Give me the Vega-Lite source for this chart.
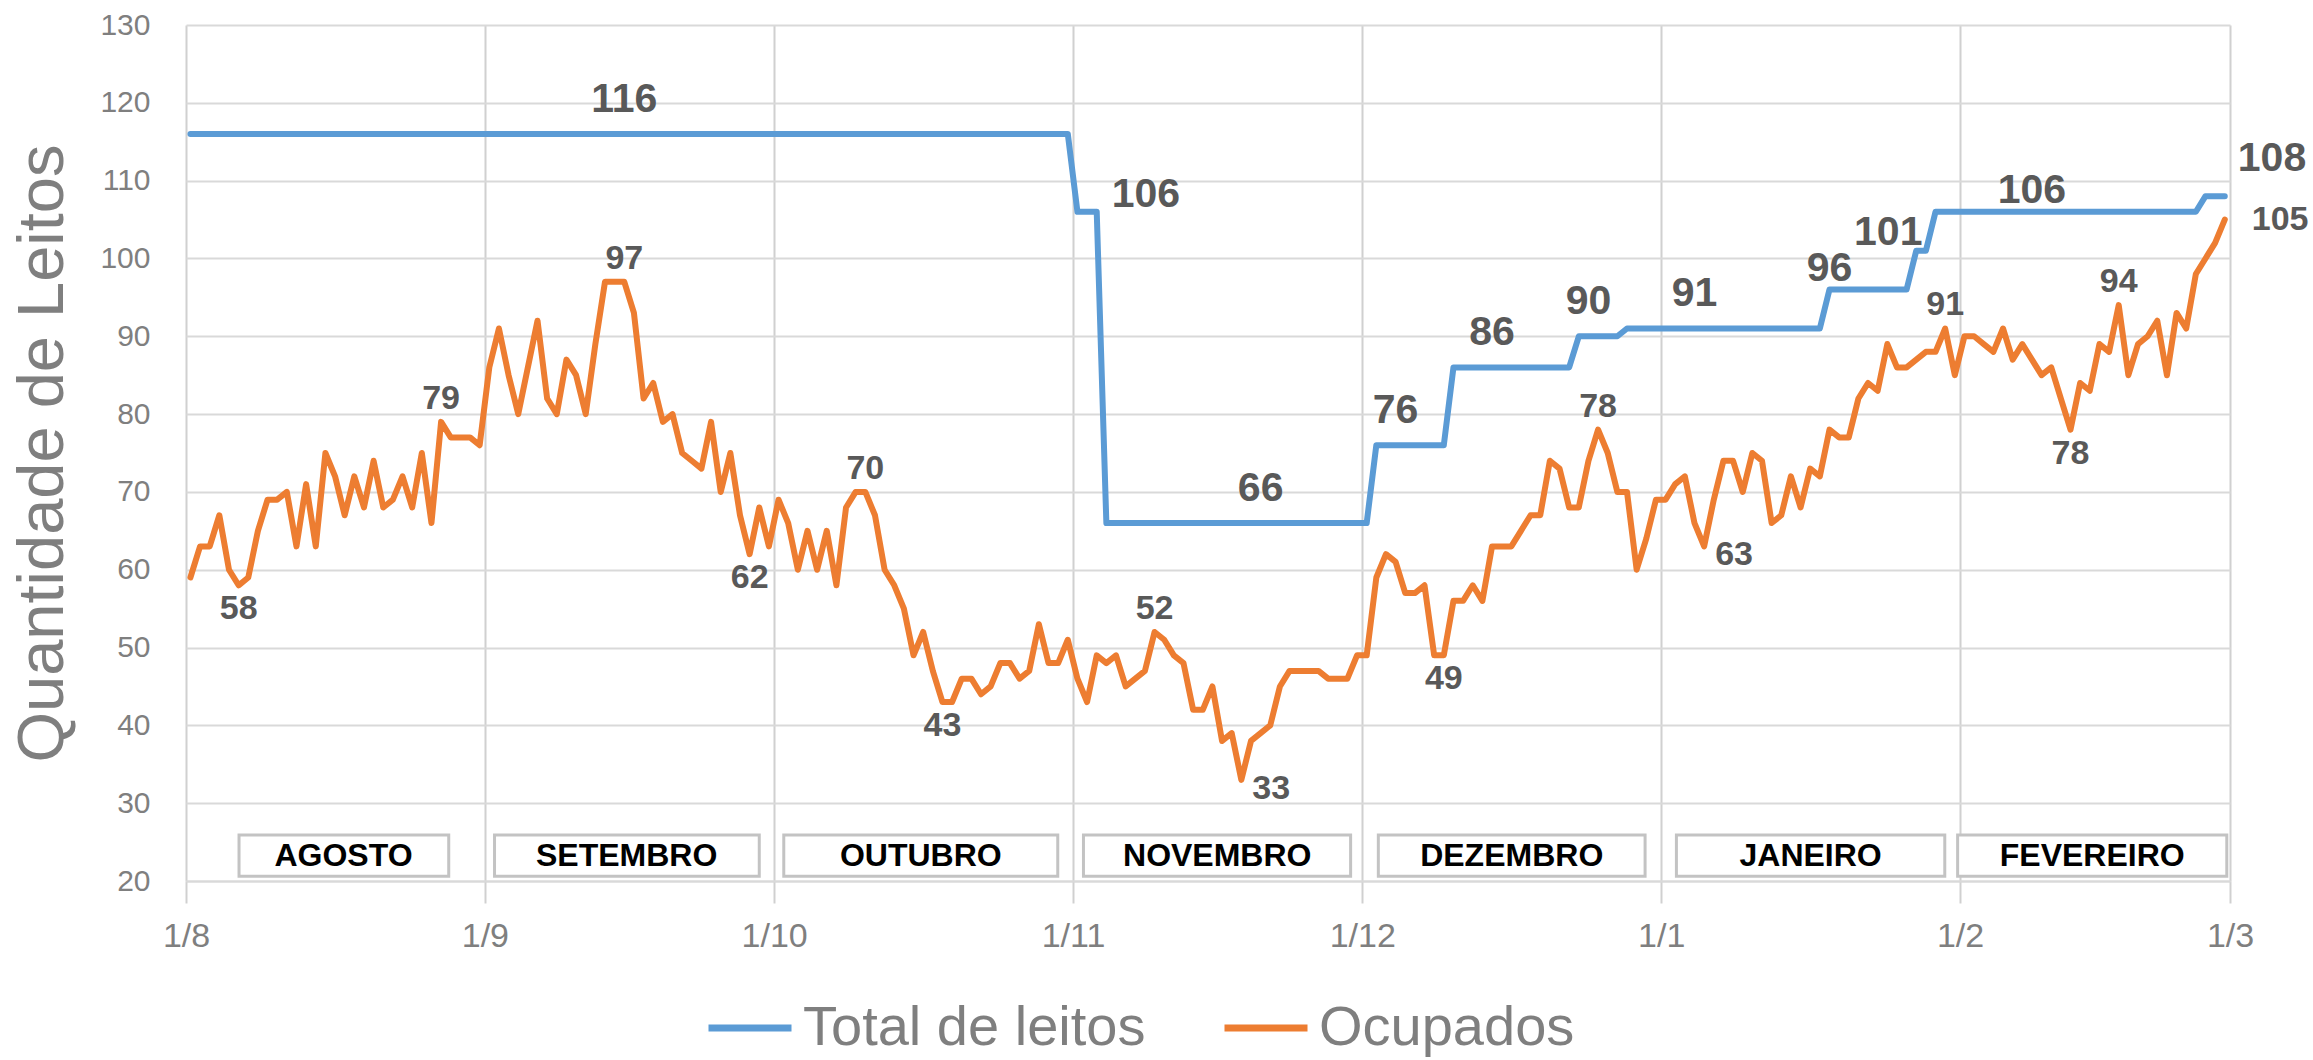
{
"$schema": "https://vega.github.io/schema/vega-lite/v6.json",
"width": 2044, "height": 856,
"autosize": {"type": "none"},
"padding": {"left": 186, "top": 25, "right": 83, "bottom": 179},
"background": "white",
"config": {"view": {"stroke": null}, "font": "Liberation Sans"},
"data": {"values": [
{"date":"2020-08-01T11:00:00Z","Total de leitos":116,"Ocupados":59},{"date":"2020-08-02T11:00:00Z","Total de leitos":116,"Ocupados":63},{"date":"2020-08-03T11:00:00Z","Total de leitos":116,"Ocupados":63},{"date":"2020-08-04T11:00:00Z","Total de leitos":116,"Ocupados":67},{"date":"2020-08-05T11:00:00Z","Total de leitos":116,"Ocupados":60},{"date":"2020-08-06T11:00:00Z","Total de leitos":116,"Ocupados":58},{"date":"2020-08-07T11:00:00Z","Total de leitos":116,"Ocupados":59},{"date":"2020-08-08T11:00:00Z","Total de leitos":116,"Ocupados":65},{"date":"2020-08-09T11:00:00Z","Total de leitos":116,"Ocupados":69},{"date":"2020-08-10T11:00:00Z","Total de leitos":116,"Ocupados":69},{"date":"2020-08-11T11:00:00Z","Total de leitos":116,"Ocupados":70},{"date":"2020-08-12T11:00:00Z","Total de leitos":116,"Ocupados":63},{"date":"2020-08-13T11:00:00Z","Total de leitos":116,"Ocupados":71},{"date":"2020-08-14T11:00:00Z","Total de leitos":116,"Ocupados":63},{"date":"2020-08-15T11:00:00Z","Total de leitos":116,"Ocupados":75},{"date":"2020-08-16T11:00:00Z","Total de leitos":116,"Ocupados":72},{"date":"2020-08-17T11:00:00Z","Total de leitos":116,"Ocupados":67},{"date":"2020-08-18T11:00:00Z","Total de leitos":116,"Ocupados":72},{"date":"2020-08-19T11:00:00Z","Total de leitos":116,"Ocupados":68},{"date":"2020-08-20T11:00:00Z","Total de leitos":116,"Ocupados":74},{"date":"2020-08-21T11:00:00Z","Total de leitos":116,"Ocupados":68},{"date":"2020-08-22T11:00:00Z","Total de leitos":116,"Ocupados":69},{"date":"2020-08-23T11:00:00Z","Total de leitos":116,"Ocupados":72},{"date":"2020-08-24T11:00:00Z","Total de leitos":116,"Ocupados":68},{"date":"2020-08-25T11:00:00Z","Total de leitos":116,"Ocupados":75},{"date":"2020-08-26T11:00:00Z","Total de leitos":116,"Ocupados":66},{"date":"2020-08-27T11:00:00Z","Total de leitos":116,"Ocupados":79},{"date":"2020-08-28T11:00:00Z","Total de leitos":116,"Ocupados":77},{"date":"2020-08-29T11:00:00Z","Total de leitos":116,"Ocupados":77},{"date":"2020-08-30T11:00:00Z","Total de leitos":116,"Ocupados":77},{"date":"2020-08-31T11:00:00Z","Total de leitos":116,"Ocupados":76},
{"date":"2020-09-01T11:00:00Z","Total de leitos":116,"Ocupados":86},{"date":"2020-09-02T11:00:00Z","Total de leitos":116,"Ocupados":91},{"date":"2020-09-03T11:00:00Z","Total de leitos":116,"Ocupados":85},{"date":"2020-09-04T11:00:00Z","Total de leitos":116,"Ocupados":80},{"date":"2020-09-05T11:00:00Z","Total de leitos":116,"Ocupados":86},{"date":"2020-09-06T11:00:00Z","Total de leitos":116,"Ocupados":92},{"date":"2020-09-07T11:00:00Z","Total de leitos":116,"Ocupados":82},{"date":"2020-09-08T11:00:00Z","Total de leitos":116,"Ocupados":80},{"date":"2020-09-09T11:00:00Z","Total de leitos":116,"Ocupados":87},{"date":"2020-09-10T11:00:00Z","Total de leitos":116,"Ocupados":85},{"date":"2020-09-11T11:00:00Z","Total de leitos":116,"Ocupados":80},{"date":"2020-09-12T11:00:00Z","Total de leitos":116,"Ocupados":89},{"date":"2020-09-13T11:00:00Z","Total de leitos":116,"Ocupados":97},{"date":"2020-09-14T11:00:00Z","Total de leitos":116,"Ocupados":97},{"date":"2020-09-15T11:00:00Z","Total de leitos":116,"Ocupados":97},{"date":"2020-09-16T11:00:00Z","Total de leitos":116,"Ocupados":93},{"date":"2020-09-17T11:00:00Z","Total de leitos":116,"Ocupados":82},{"date":"2020-09-18T11:00:00Z","Total de leitos":116,"Ocupados":84},{"date":"2020-09-19T11:00:00Z","Total de leitos":116,"Ocupados":79},{"date":"2020-09-20T11:00:00Z","Total de leitos":116,"Ocupados":80},{"date":"2020-09-21T11:00:00Z","Total de leitos":116,"Ocupados":75},{"date":"2020-09-22T11:00:00Z","Total de leitos":116,"Ocupados":74},{"date":"2020-09-23T11:00:00Z","Total de leitos":116,"Ocupados":73},{"date":"2020-09-24T11:00:00Z","Total de leitos":116,"Ocupados":79},{"date":"2020-09-25T11:00:00Z","Total de leitos":116,"Ocupados":70},{"date":"2020-09-26T11:00:00Z","Total de leitos":116,"Ocupados":75},{"date":"2020-09-27T11:00:00Z","Total de leitos":116,"Ocupados":67},{"date":"2020-09-28T11:00:00Z","Total de leitos":116,"Ocupados":62},{"date":"2020-09-29T11:00:00Z","Total de leitos":116,"Ocupados":68},{"date":"2020-09-30T11:00:00Z","Total de leitos":116,"Ocupados":63},
{"date":"2020-10-01T11:00:00Z","Total de leitos":116,"Ocupados":69},{"date":"2020-10-02T11:00:00Z","Total de leitos":116,"Ocupados":66},{"date":"2020-10-03T11:00:00Z","Total de leitos":116,"Ocupados":60},{"date":"2020-10-04T11:00:00Z","Total de leitos":116,"Ocupados":65},{"date":"2020-10-05T11:00:00Z","Total de leitos":116,"Ocupados":60},{"date":"2020-10-06T11:00:00Z","Total de leitos":116,"Ocupados":65},{"date":"2020-10-07T11:00:00Z","Total de leitos":116,"Ocupados":58},{"date":"2020-10-08T11:00:00Z","Total de leitos":116,"Ocupados":68},{"date":"2020-10-09T11:00:00Z","Total de leitos":116,"Ocupados":70},{"date":"2020-10-10T11:00:00Z","Total de leitos":116,"Ocupados":70},{"date":"2020-10-11T11:00:00Z","Total de leitos":116,"Ocupados":67},{"date":"2020-10-12T11:00:00Z","Total de leitos":116,"Ocupados":60},{"date":"2020-10-13T11:00:00Z","Total de leitos":116,"Ocupados":58},{"date":"2020-10-14T11:00:00Z","Total de leitos":116,"Ocupados":55},{"date":"2020-10-15T11:00:00Z","Total de leitos":116,"Ocupados":49},{"date":"2020-10-16T11:00:00Z","Total de leitos":116,"Ocupados":52},{"date":"2020-10-17T11:00:00Z","Total de leitos":116,"Ocupados":47},{"date":"2020-10-18T11:00:00Z","Total de leitos":116,"Ocupados":43},{"date":"2020-10-19T11:00:00Z","Total de leitos":116,"Ocupados":43},{"date":"2020-10-20T11:00:00Z","Total de leitos":116,"Ocupados":46},{"date":"2020-10-21T11:00:00Z","Total de leitos":116,"Ocupados":46},{"date":"2020-10-22T11:00:00Z","Total de leitos":116,"Ocupados":44},{"date":"2020-10-23T11:00:00Z","Total de leitos":116,"Ocupados":45},{"date":"2020-10-24T11:00:00Z","Total de leitos":116,"Ocupados":48},{"date":"2020-10-25T11:00:00Z","Total de leitos":116,"Ocupados":48},{"date":"2020-10-26T11:00:00Z","Total de leitos":116,"Ocupados":46},{"date":"2020-10-27T11:00:00Z","Total de leitos":116,"Ocupados":47},{"date":"2020-10-28T11:00:00Z","Total de leitos":116,"Ocupados":53},{"date":"2020-10-29T11:00:00Z","Total de leitos":116,"Ocupados":48},{"date":"2020-10-30T11:00:00Z","Total de leitos":116,"Ocupados":48},{"date":"2020-10-31T11:00:00Z","Total de leitos":116,"Ocupados":51},
{"date":"2020-11-01T11:00:00Z","Total de leitos":106,"Ocupados":46},{"date":"2020-11-02T11:00:00Z","Total de leitos":106,"Ocupados":43},{"date":"2020-11-03T11:00:00Z","Total de leitos":106,"Ocupados":49},{"date":"2020-11-04T11:00:00Z","Total de leitos":66,"Ocupados":48},{"date":"2020-11-05T11:00:00Z","Total de leitos":66,"Ocupados":49},{"date":"2020-11-06T11:00:00Z","Total de leitos":66,"Ocupados":45},{"date":"2020-11-07T11:00:00Z","Total de leitos":66,"Ocupados":46},{"date":"2020-11-08T11:00:00Z","Total de leitos":66,"Ocupados":47},{"date":"2020-11-09T11:00:00Z","Total de leitos":66,"Ocupados":52},{"date":"2020-11-10T11:00:00Z","Total de leitos":66,"Ocupados":51},{"date":"2020-11-11T11:00:00Z","Total de leitos":66,"Ocupados":49},{"date":"2020-11-12T11:00:00Z","Total de leitos":66,"Ocupados":48},{"date":"2020-11-13T11:00:00Z","Total de leitos":66,"Ocupados":42},{"date":"2020-11-14T11:00:00Z","Total de leitos":66,"Ocupados":42},{"date":"2020-11-15T11:00:00Z","Total de leitos":66,"Ocupados":45},{"date":"2020-11-16T11:00:00Z","Total de leitos":66,"Ocupados":38},{"date":"2020-11-17T11:00:00Z","Total de leitos":66,"Ocupados":39},{"date":"2020-11-18T11:00:00Z","Total de leitos":66,"Ocupados":33},{"date":"2020-11-19T11:00:00Z","Total de leitos":66,"Ocupados":38},{"date":"2020-11-20T11:00:00Z","Total de leitos":66,"Ocupados":39},{"date":"2020-11-21T11:00:00Z","Total de leitos":66,"Ocupados":40},{"date":"2020-11-22T11:00:00Z","Total de leitos":66,"Ocupados":45},{"date":"2020-11-23T11:00:00Z","Total de leitos":66,"Ocupados":47},{"date":"2020-11-24T11:00:00Z","Total de leitos":66,"Ocupados":47},{"date":"2020-11-25T11:00:00Z","Total de leitos":66,"Ocupados":47},{"date":"2020-11-26T11:00:00Z","Total de leitos":66,"Ocupados":47},{"date":"2020-11-27T11:00:00Z","Total de leitos":66,"Ocupados":46},{"date":"2020-11-28T11:00:00Z","Total de leitos":66,"Ocupados":46},{"date":"2020-11-29T11:00:00Z","Total de leitos":66,"Ocupados":46},{"date":"2020-11-30T11:00:00Z","Total de leitos":66,"Ocupados":49},
{"date":"2020-12-01T11:00:00Z","Total de leitos":66,"Ocupados":49},{"date":"2020-12-02T11:00:00Z","Total de leitos":76,"Ocupados":59},{"date":"2020-12-03T11:00:00Z","Total de leitos":76,"Ocupados":62},{"date":"2020-12-04T11:00:00Z","Total de leitos":76,"Ocupados":61},{"date":"2020-12-05T11:00:00Z","Total de leitos":76,"Ocupados":57},{"date":"2020-12-06T11:00:00Z","Total de leitos":76,"Ocupados":57},{"date":"2020-12-07T11:00:00Z","Total de leitos":76,"Ocupados":58},{"date":"2020-12-08T11:00:00Z","Total de leitos":76,"Ocupados":49},{"date":"2020-12-09T11:00:00Z","Total de leitos":76,"Ocupados":49},{"date":"2020-12-10T11:00:00Z","Total de leitos":86,"Ocupados":56},{"date":"2020-12-11T11:00:00Z","Total de leitos":86,"Ocupados":56},{"date":"2020-12-12T11:00:00Z","Total de leitos":86,"Ocupados":58},{"date":"2020-12-13T11:00:00Z","Total de leitos":86,"Ocupados":56},{"date":"2020-12-14T11:00:00Z","Total de leitos":86,"Ocupados":63},{"date":"2020-12-15T11:00:00Z","Total de leitos":86,"Ocupados":63},{"date":"2020-12-16T11:00:00Z","Total de leitos":86,"Ocupados":63},{"date":"2020-12-17T11:00:00Z","Total de leitos":86,"Ocupados":65},{"date":"2020-12-18T11:00:00Z","Total de leitos":86,"Ocupados":67},{"date":"2020-12-19T11:00:00Z","Total de leitos":86,"Ocupados":67},{"date":"2020-12-20T11:00:00Z","Total de leitos":86,"Ocupados":74},{"date":"2020-12-21T11:00:00Z","Total de leitos":86,"Ocupados":73},{"date":"2020-12-22T11:00:00Z","Total de leitos":86,"Ocupados":68},{"date":"2020-12-23T11:00:00Z","Total de leitos":90,"Ocupados":68},{"date":"2020-12-24T11:00:00Z","Total de leitos":90,"Ocupados":74},{"date":"2020-12-25T11:00:00Z","Total de leitos":90,"Ocupados":78},{"date":"2020-12-26T11:00:00Z","Total de leitos":90,"Ocupados":75},{"date":"2020-12-27T11:00:00Z","Total de leitos":90,"Ocupados":70},{"date":"2020-12-28T11:00:00Z","Total de leitos":91,"Ocupados":70},{"date":"2020-12-29T11:00:00Z","Total de leitos":91,"Ocupados":60},{"date":"2020-12-30T11:00:00Z","Total de leitos":91,"Ocupados":64},{"date":"2020-12-31T11:00:00Z","Total de leitos":91,"Ocupados":69},
{"date":"2021-01-01T11:00:00Z","Total de leitos":91,"Ocupados":69},{"date":"2021-01-02T11:00:00Z","Total de leitos":91,"Ocupados":71},{"date":"2021-01-03T11:00:00Z","Total de leitos":91,"Ocupados":72},{"date":"2021-01-04T11:00:00Z","Total de leitos":91,"Ocupados":66},{"date":"2021-01-05T11:00:00Z","Total de leitos":91,"Ocupados":63},{"date":"2021-01-06T11:00:00Z","Total de leitos":91,"Ocupados":69},{"date":"2021-01-07T11:00:00Z","Total de leitos":91,"Ocupados":74},{"date":"2021-01-08T11:00:00Z","Total de leitos":91,"Ocupados":74},{"date":"2021-01-09T11:00:00Z","Total de leitos":91,"Ocupados":70},{"date":"2021-01-10T11:00:00Z","Total de leitos":91,"Ocupados":75},{"date":"2021-01-11T11:00:00Z","Total de leitos":91,"Ocupados":74},{"date":"2021-01-12T11:00:00Z","Total de leitos":91,"Ocupados":66},{"date":"2021-01-13T11:00:00Z","Total de leitos":91,"Ocupados":67},{"date":"2021-01-14T11:00:00Z","Total de leitos":91,"Ocupados":72},{"date":"2021-01-15T11:00:00Z","Total de leitos":91,"Ocupados":68},{"date":"2021-01-16T11:00:00Z","Total de leitos":91,"Ocupados":73},{"date":"2021-01-17T11:00:00Z","Total de leitos":91,"Ocupados":72},{"date":"2021-01-18T11:00:00Z","Total de leitos":96,"Ocupados":78},{"date":"2021-01-19T11:00:00Z","Total de leitos":96,"Ocupados":77},{"date":"2021-01-20T11:00:00Z","Total de leitos":96,"Ocupados":77},{"date":"2021-01-21T11:00:00Z","Total de leitos":96,"Ocupados":82},{"date":"2021-01-22T11:00:00Z","Total de leitos":96,"Ocupados":84},{"date":"2021-01-23T11:00:00Z","Total de leitos":96,"Ocupados":83},{"date":"2021-01-24T11:00:00Z","Total de leitos":96,"Ocupados":89},{"date":"2021-01-25T11:00:00Z","Total de leitos":96,"Ocupados":86},{"date":"2021-01-26T11:00:00Z","Total de leitos":96,"Ocupados":86},{"date":"2021-01-27T11:00:00Z","Total de leitos":101,"Ocupados":87},{"date":"2021-01-28T11:00:00Z","Total de leitos":101,"Ocupados":88},{"date":"2021-01-29T11:00:00Z","Total de leitos":106,"Ocupados":88},{"date":"2021-01-30T11:00:00Z","Total de leitos":106,"Ocupados":91},{"date":"2021-01-31T11:00:00Z","Total de leitos":106,"Ocupados":85},
{"date":"2021-02-01T11:00:00Z","Total de leitos":106,"Ocupados":90},{"date":"2021-02-02T11:00:00Z","Total de leitos":106,"Ocupados":90},{"date":"2021-02-03T11:00:00Z","Total de leitos":106,"Ocupados":89},{"date":"2021-02-04T11:00:00Z","Total de leitos":106,"Ocupados":88},{"date":"2021-02-05T11:00:00Z","Total de leitos":106,"Ocupados":91},{"date":"2021-02-06T11:00:00Z","Total de leitos":106,"Ocupados":87},{"date":"2021-02-07T11:00:00Z","Total de leitos":106,"Ocupados":89},{"date":"2021-02-08T11:00:00Z","Total de leitos":106,"Ocupados":87},{"date":"2021-02-09T11:00:00Z","Total de leitos":106,"Ocupados":85},{"date":"2021-02-10T11:00:00Z","Total de leitos":106,"Ocupados":86},{"date":"2021-02-11T11:00:00Z","Total de leitos":106,"Ocupados":82},{"date":"2021-02-12T11:00:00Z","Total de leitos":106,"Ocupados":78},{"date":"2021-02-13T11:00:00Z","Total de leitos":106,"Ocupados":84},{"date":"2021-02-14T11:00:00Z","Total de leitos":106,"Ocupados":83},{"date":"2021-02-15T11:00:00Z","Total de leitos":106,"Ocupados":89},{"date":"2021-02-16T11:00:00Z","Total de leitos":106,"Ocupados":88},{"date":"2021-02-17T11:00:00Z","Total de leitos":106,"Ocupados":94},{"date":"2021-02-18T11:00:00Z","Total de leitos":106,"Ocupados":85},{"date":"2021-02-19T11:00:00Z","Total de leitos":106,"Ocupados":89},{"date":"2021-02-20T11:00:00Z","Total de leitos":106,"Ocupados":90},{"date":"2021-02-21T11:00:00Z","Total de leitos":106,"Ocupados":92},{"date":"2021-02-22T11:00:00Z","Total de leitos":106,"Ocupados":85},{"date":"2021-02-23T11:00:00Z","Total de leitos":106,"Ocupados":93},{"date":"2021-02-24T11:00:00Z","Total de leitos":106,"Ocupados":91},{"date":"2021-02-25T11:00:00Z","Total de leitos":106,"Ocupados":98},{"date":"2021-02-26T11:00:00Z","Total de leitos":108,"Ocupados":100},{"date":"2021-02-27T11:00:00Z","Total de leitos":108,"Ocupados":102},{"date":"2021-02-28T11:00:00Z","Total de leitos":108,"Ocupados":105}
]},
"layer": [
{
 "transform": [{"fold": ["Total de leitos", "Ocupados"], "as": ["serie", "valor"]}],
 "mark": {"type": "line", "strokeWidth": 6, "strokeJoin": "round", "strokeCap": "round"},
 "encoding": {
  "x": {"field": "date", "type": "temporal",
        "scale": {"type": "utc", "domain": [{"year":2020,"month":8,"date":1,"utc":true},{"year":2021,"month":3,"date":1,"utc":true}]},
        "axis": {"title": null, "format": "%-d/%-m",
                 "values": [{"year":2020,"month":8,"date":1,"utc":true},{"year":2020,"month":9,"date":1,"utc":true},{"year":2020,"month":10,"date":1,"utc":true},{"year":2020,"month":11,"date":1,"utc":true},{"year":2020,"month":12,"date":1,"utc":true},{"year":2021,"month":1,"date":1,"utc":true},{"year":2021,"month":2,"date":1,"utc":true},{"year":2021,"month":3,"date":1,"utc":true}],
                 "grid": true, "gridColor": "#d0d0d0", "gridWidth": 2,
                 "ticks": true, "tickColor": "#d0d0d0", "tickWidth": 2, "tickSize": 22,
                 "domain": true, "domainColor": "#d9d9d9", "domainWidth": 2,
                 "labelPadding": 16, "labelFontSize": 34, "labelColor": "#7f7f7f", "labelFont": "Liberation Sans",
                 "labelFlush": false, "labelOverlap": false}},
  "y": {"field": "valor", "type": "quantitative",
        "scale": {"domain": [20, 130], "nice": false, "zero": false},
        "axis": {"title": "Quantidade de Leitos", "values": [20,30,40,50,60,70,80,90,100,110,120,130],
                 "grid": true, "gridColor": "#d9d9d9", "gridWidth": 2, "domain": false, "ticks": false,
                 "labelPadding": 36, "labelFontSize": 30, "labelColor": "#7f7f7f", "labelFont": "Liberation Sans",
                 "titleFont": "Liberation Sans", "titleFontSize": 65, "titleFontWeight": "normal", "titleColor": "#7f7f7f",
                 "titleX": -144, "titleBaseline": "middle"}},
  "color": {"field": "serie", "type": "nominal",
            "scale": {"domain": ["Total de leitos", "Ocupados"], "range": ["#5b9bd5", "#ed7d31"]},
            "legend": {"title": null, "orient": "none", "legendX": 519, "legendY": 958, "direction": "horizontal",
                       "symbolType": "stroke", "symbolSize": 6889, "symbolStrokeWidth": 7,
                       "labelFontSize": 56, "labelColor": "#7f7f7f", "labelFont": "Liberation Sans",
                       "labelOffset": 8, "columnPadding": 64, "labelLimit": 0}}
 }
},
{
 "data": {"values": [
  {"mes":"AGOSTO","inicio":"2020-08-06T12:00:00Z","fim":"2020-08-28T06:00:00Z","meio":"2020-08-17T08:00:00Z"},
  {"mes":"SETEMBRO","inicio":"2020-09-02T00:00:00Z","fim":"2020-09-29T11:00:00Z","meio":"2020-09-15T17:00:00Z"},
  {"mes":"OUTUBRO","inicio":"2020-10-02T00:00:00Z","fim":"2020-10-30T10:00:00Z","meio":"2020-10-16T05:00:00Z"},
  {"mes":"NOVEMBRO","inicio":"2020-11-02T02:00:00Z","fim":"2020-11-29T19:00:00Z","meio":"2020-11-15T23:00:00Z"},
  {"mes":"DEZEMBRO","inicio":"2020-12-02T16:00:00Z","fim":"2020-12-30T08:00:00Z","meio":"2020-12-16T12:00:00Z"},
  {"mes":"JANEIRO","inicio":"2021-01-02T14:00:00Z","fim":"2021-01-30T10:00:00Z","meio":"2021-01-16T12:00:00Z"},
  {"mes":"FEVEREIRO","inicio":"2021-01-31T18:00:00Z","fim":"2021-02-28T16:00:00Z","meio":"2021-02-14T17:00:00Z"}
 ]},
 "layer": [
  {"mark": {"type": "rect", "fill": "white", "stroke": "#c3c3c3", "strokeWidth": 3},
   "encoding": {
    "x": {"field": "inicio", "type": "temporal", "scale": {"type": "utc", "domain": [{"year":2020,"month":8,"date":1,"utc":true},{"year":2021,"month":3,"date":1,"utc":true}]}},
    "x2": {"field": "fim"},
    "y": {"datum": 20.6, "type": "quantitative", "scale": {"domain": [20, 130], "nice": false, "zero": false}},
    "y2": {"datum": 25.9}
   }},
  {"mark": {"type": "text", "font": "Liberation Sans", "fontWeight": "bold", "fontSize": 32, "fill": "#000000", "baseline": "middle", "align": "center"},
   "encoding": {
    "x": {"field": "meio", "type": "temporal", "scale": {"type": "utc", "domain": [{"year":2020,"month":8,"date":1,"utc":true},{"year":2021,"month":3,"date":1,"utc":true}]}},
    "y": {"datum": 23.2, "type": "quantitative", "scale": {"domain": [20, 130], "nice": false, "zero": false}},
    "text": {"field": "mes"}
   }}
 ]
},
{
 "transform": [{"filter": "indexof(['2020-09-15','2020-11-20','2020-12-04','2020-12-14','2020-12-24','2021-01-04'], utcFormat(toDate(datum.date), '%Y-%m-%d')) >= 0"}],
 "mark": {"type": "text", "font": "Liberation Sans", "fontWeight": "bold", "fontSize": 41, "fill": "#595959", "baseline": "middle", "align": "center", "dy": -34},
 "encoding": {
  "x": {"field": "date", "type": "temporal", "scale": {"type": "utc", "domain": [{"year":2020,"month":8,"date":1,"utc":true},{"year":2021,"month":3,"date":1,"utc":true}]}},
  "y": {"field": "Total de leitos", "type": "quantitative", "scale": {"domain": [20, 130], "nice": false, "zero": false}},
  "text": {"field": "Total de leitos", "type": "quantitative"}
 }
},
{
 "transform": [{"filter": "indexof(['2021-01-18','2021-02-08'], utcFormat(toDate(datum.date), '%Y-%m-%d')) >= 0"}],
 "mark": {"type": "text", "font": "Liberation Sans", "fontWeight": "bold", "fontSize": 41, "fill": "#595959", "baseline": "middle", "align": "center", "dy": -21},
 "encoding": {
  "x": {"field": "date", "type": "temporal", "scale": {"type": "utc", "domain": [{"year":2020,"month":8,"date":1,"utc":true},{"year":2021,"month":3,"date":1,"utc":true}]}},
  "y": {"field": "Total de leitos", "type": "quantitative", "scale": {"domain": [20, 130], "nice": false, "zero": false}},
  "text": {"field": "Total de leitos", "type": "quantitative"}
 }
},
{
 "transform": [{"filter": "indexof(['2021-01-27'], utcFormat(toDate(datum.date), '%Y-%m-%d')) >= 0"}],
 "mark": {"type": "text", "font": "Liberation Sans", "fontWeight": "bold", "fontSize": 41, "fill": "#595959", "baseline": "middle", "align": "center", "dx": -28, "dy": -18},
 "encoding": {
  "x": {"field": "date", "type": "temporal", "scale": {"type": "utc", "domain": [{"year":2020,"month":8,"date":1,"utc":true},{"year":2021,"month":3,"date":1,"utc":true}]}},
  "y": {"field": "Total de leitos", "type": "quantitative", "scale": {"domain": [20, 130], "nice": false, "zero": false}},
  "text": {"field": "Total de leitos", "type": "quantitative"}
 }
},
{
 "transform": [{"filter": "indexof(['2020-11-03'], utcFormat(toDate(datum.date), '%Y-%m-%d')) >= 0"}],
 "mark": {"type": "text", "font": "Liberation Sans", "fontWeight": "bold", "fontSize": 41, "fill": "#595959", "baseline": "middle", "align": "left", "dx": 15, "dy": -17},
 "encoding": {
  "x": {"field": "date", "type": "temporal", "scale": {"type": "utc", "domain": [{"year":2020,"month":8,"date":1,"utc":true},{"year":2021,"month":3,"date":1,"utc":true}]}},
  "y": {"field": "Total de leitos", "type": "quantitative", "scale": {"domain": [20, 130], "nice": false, "zero": false}},
  "text": {"field": "Total de leitos", "type": "quantitative"}
 }
},
{
 "transform": [{"filter": "indexof(['2021-02-28'], utcFormat(toDate(datum.date), '%Y-%m-%d')) >= 0"}],
 "mark": {"type": "text", "font": "Liberation Sans", "fontWeight": "bold", "fontSize": 41, "fill": "#595959", "baseline": "middle", "align": "left", "dx": 13, "dy": -37},
 "encoding": {
  "x": {"field": "date", "type": "temporal", "scale": {"type": "utc", "domain": [{"year":2020,"month":8,"date":1,"utc":true},{"year":2021,"month":3,"date":1,"utc":true}]}},
  "y": {"field": "Total de leitos", "type": "quantitative", "scale": {"domain": [20, 130], "nice": false, "zero": false}},
  "text": {"field": "Total de leitos", "type": "quantitative"}
 }
},
{
 "transform": [{"filter": "indexof(['2020-08-06','2020-09-28','2020-10-18','2020-12-09','2021-02-12'], utcFormat(toDate(datum.date), '%Y-%m-%d')) >= 0"}],
 "mark": {"type": "text", "font": "Liberation Sans", "fontWeight": "bold", "fontSize": 34, "fill": "#595959", "baseline": "middle", "align": "center", "dy": 24},
 "encoding": {
  "x": {"field": "date", "type": "temporal", "scale": {"type": "utc", "domain": [{"year":2020,"month":8,"date":1,"utc":true},{"year":2021,"month":3,"date":1,"utc":true}]}},
  "y": {"field": "Ocupados", "type": "quantitative", "scale": {"domain": [20, 130], "nice": false, "zero": false}},
  "text": {"field": "Ocupados", "type": "quantitative"}
 }
},
{
 "transform": [{"filter": "indexof(['2020-08-27','2020-09-15','2020-10-10','2020-11-09','2020-12-25','2021-01-30','2021-02-17'], utcFormat(toDate(datum.date), '%Y-%m-%d')) >= 0"}],
 "mark": {"type": "text", "font": "Liberation Sans", "fontWeight": "bold", "fontSize": 34, "fill": "#595959", "baseline": "middle", "align": "center", "dy": -23},
 "encoding": {
  "x": {"field": "date", "type": "temporal", "scale": {"type": "utc", "domain": [{"year":2020,"month":8,"date":1,"utc":true},{"year":2021,"month":3,"date":1,"utc":true}]}},
  "y": {"field": "Ocupados", "type": "quantitative", "scale": {"domain": [20, 130], "nice": false, "zero": false}},
  "text": {"field": "Ocupados", "type": "quantitative"}
 }
},
{
 "transform": [{"filter": "indexof(['2020-11-18','2021-01-05'], utcFormat(toDate(datum.date), '%Y-%m-%d')) >= 0"}],
 "mark": {"type": "text", "font": "Liberation Sans", "fontWeight": "bold", "fontSize": 34, "fill": "#595959", "baseline": "middle", "align": "left", "dx": 11, "dy": 9},
 "encoding": {
  "x": {"field": "date", "type": "temporal", "scale": {"type": "utc", "domain": [{"year":2020,"month":8,"date":1,"utc":true},{"year":2021,"month":3,"date":1,"utc":true}]}},
  "y": {"field": "Ocupados", "type": "quantitative", "scale": {"domain": [20, 130], "nice": false, "zero": false}},
  "text": {"field": "Ocupados", "type": "quantitative"}
 }
},
{
 "transform": [{"filter": "indexof(['2021-02-28'], utcFormat(toDate(datum.date), '%Y-%m-%d')) >= 0"}],
 "mark": {"type": "text", "font": "Liberation Sans", "fontWeight": "bold", "fontSize": 34, "fill": "#595959", "baseline": "middle", "align": "left", "dx": 27, "dy": 0},
 "encoding": {
  "x": {"field": "date", "type": "temporal", "scale": {"type": "utc", "domain": [{"year":2020,"month":8,"date":1,"utc":true},{"year":2021,"month":3,"date":1,"utc":true}]}},
  "y": {"field": "Ocupados", "type": "quantitative", "scale": {"domain": [20, 130], "nice": false, "zero": false}},
  "text": {"field": "Ocupados", "type": "quantitative"}
 }
}
]
}
